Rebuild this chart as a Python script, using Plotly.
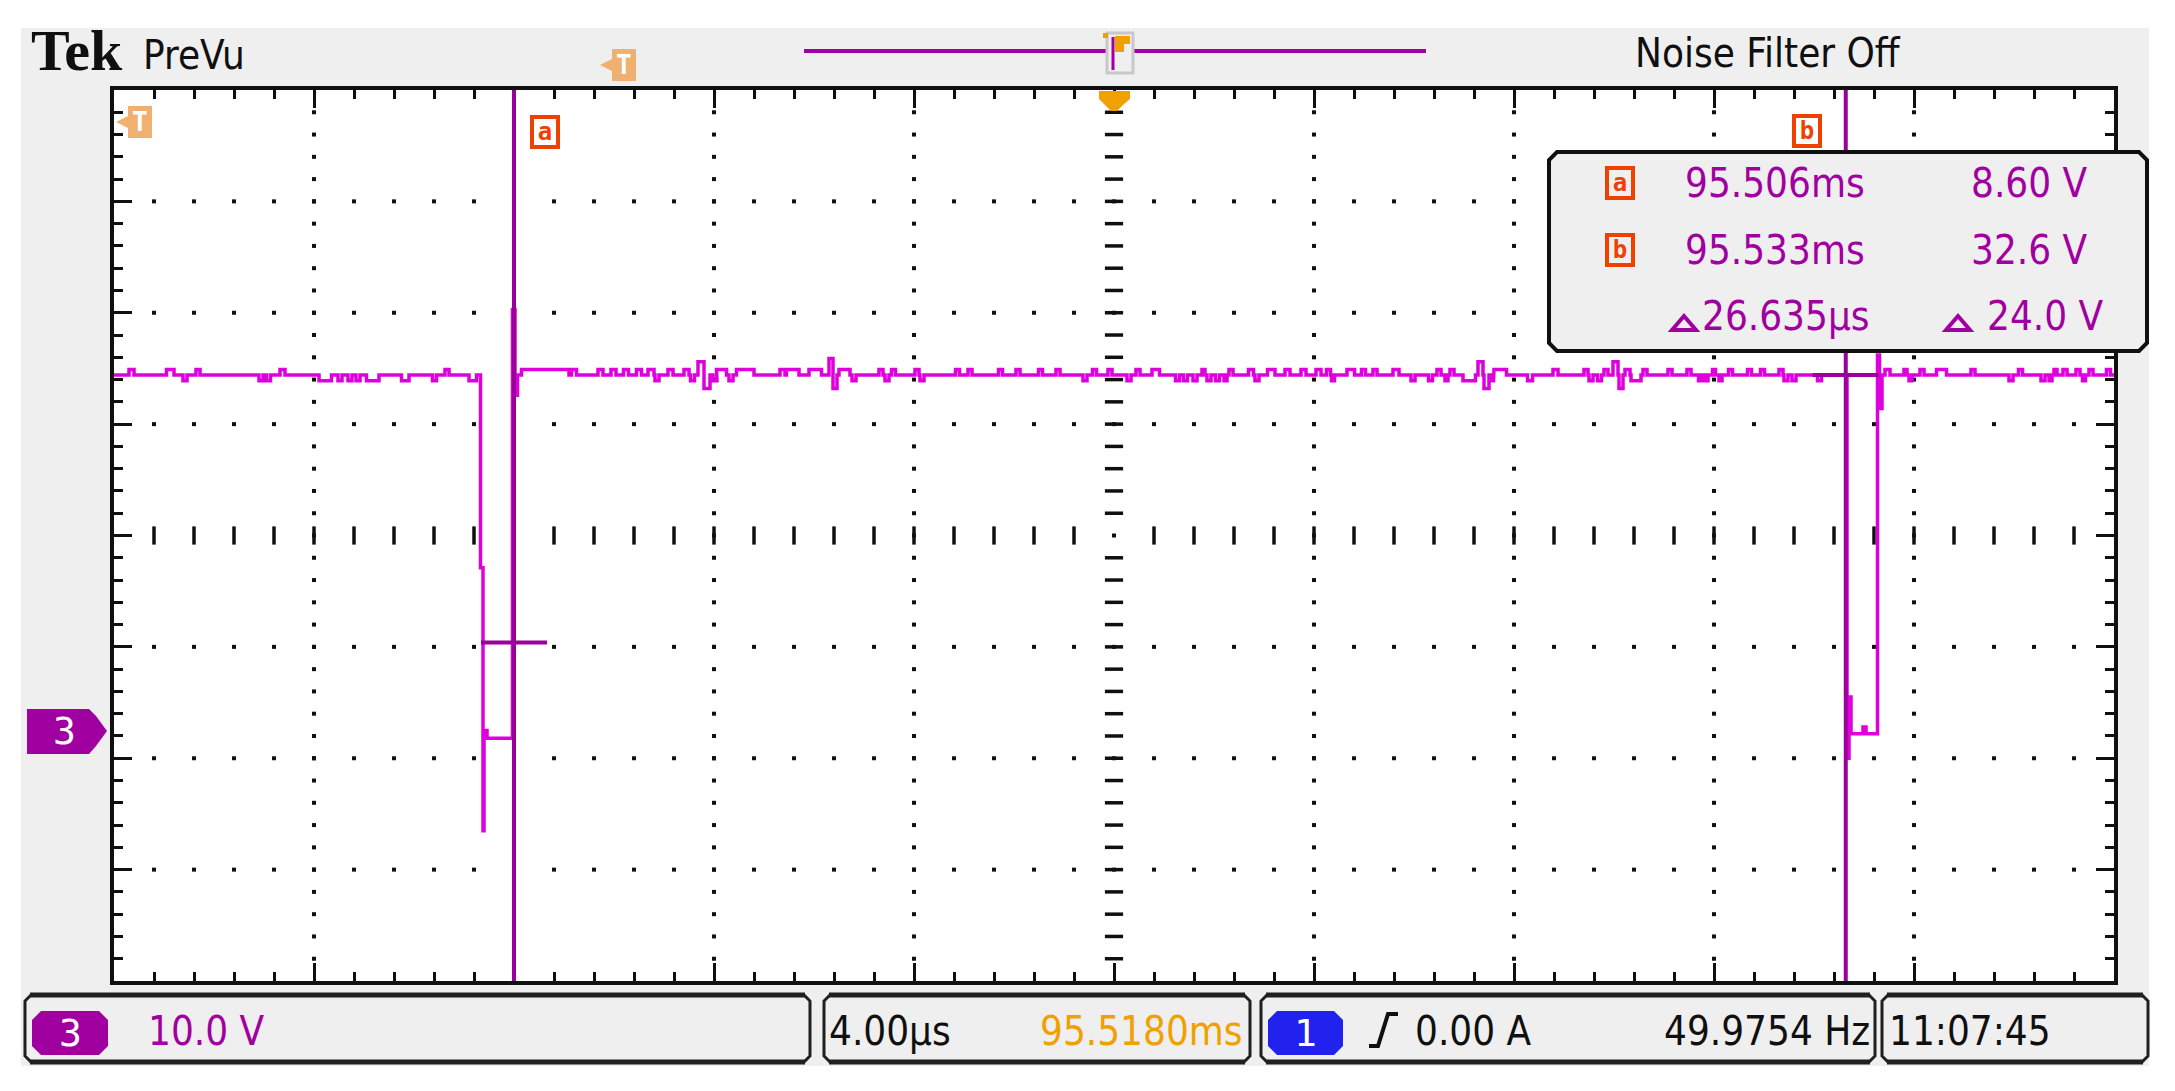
import plotly.graph_objects as go

# --- screen data -----------------------------------------------------------
# time axis in µs relative to screen centre (4.00 µs/div, 10 div)
T_RANGE = [-20, 20]
# ch3 voltage axis (10.0 V/div, 8 div, ground marker at 5.82 div from top)
V_RANGE = [-21.8, 58.2]
BASE_V = 32.6

# baseline noise: start time (µs), deviation (V), width (µs)
NOISE_T = [-19.70, -18.95, -18.62, -18.36, -17.10, -16.95, -16.68, -15.90, -15.52, -15.32,
           -15.16, -14.95, -14.25, -13.63, -13.38, -12.90,
           -11.85, -10.85, -10.32, -10.06, -9.81, -9.55, -9.32, -9.18, -8.92, -8.60,
           -8.47, -8.32, -8.20, -8.02, -7.95, -7.70, -7.55, -6.68, -6.55, -6.10,
           -5.70, -5.62, -5.50, -5.24, -4.70, -4.58, -4.45, -3.98, -3.88, -3.17,
           -2.92, -2.31, -1.96, -1.51, -1.16, -0.62, -0.43, -0.12, 0.26, 0.44,
           0.76, 1.23, 1.39, 1.58, 1.76, 1.86, 2.03, 2.20, 2.30, 2.69,
           2.82, 3.07, 3.42, 3.74, 4.04, 4.25, 4.35, 4.66, 4.95, 5.18,
           5.58, 5.94, 6.29, 6.46, 6.62, 6.72, 6.98, 7.28, 7.40, 7.53,
           7.60, 8.27, 8.78, 9.40, 9.50, 9.67, 9.80, 9.98, 10.10, 10.22,
           10.34, 10.58, 11.08, 11.46, 11.69, 11.82, 11.97, 12.10, 12.29, 12.67,
           12.93, 13.30, 13.40, 13.56, 14.07,
           15.42, 15.80, 15.90, 16.12, 16.45, 17.14, 17.90, 18.09, 18.54, 18.70,
           18.80, 18.98, 19.24, 19.37, 19.50, 19.85]
NOISE_DV = [0.5, 0.5, -0.5, 0.5, -0.5, -0.5, 0.5, -0.5, -0.5, -0.5,
            -0.5, -0.5, -0.5, -0.5, 0.5, -0.5,
            0.5, 0.5, 0.5, 0.5, 0.5, 0.5, 0.5, -0.5, 0.5, 0.5,
            -0.5, 1.2, -1.2, -0.5, 0.5, -0.5, 0.5, 0.5, 0.5, 0.5,
            1.5, -1.2, 0.5, -0.5, 0.5, -0.5, 0.5, 0.5, -0.5, 0.5,
            0.5, 0.5, 0.5, 0.5, 0.5, -0.5, 0.5, 0.5, -0.5, 0.5,
            0.5, -0.5, -0.5, -0.5, 0.5, -0.5, -0.5, -0.5, 0.5, 0.5,
            -0.5, 0.5, 0.5, 0.5, 0.5, 0.5, -0.5, 0.5, 0.5, 0.5,
            0.5, -0.5, -0.5, 0.5, -0.5, 0.5, -0.5, 1.2, -1.2, -0.5,
            0.5, -0.5, 0.5, 0.5, -0.5, -0.5, 0.5, 1.2, -1.2, 0.5,
            -0.5, 0.5, 0.5, 0.5, -0.5, -0.5, 0.5, -0.5, 0.5, 0.5,
            0.5, 0.5, -0.5, -0.5, -0.5,
            0.5, 0.5, -0.5, 0.5, 0.5, 0.5, -0.5, 0.5, -0.5, -0.5,
            0.5, 0.5, 0.5, -0.5, 0.5, 0.5]
NOISE_W = [0.10, 0.15, 0.08, 0.08, 0.08, 0.08, 0.10, 0.25, 0.08, 0.08,
           0.08, 0.25, 0.15, 0.08, 0.08, 0.15,
           0.95, 0.10, 0.10, 0.10, 0.10, 0.10, 0.12, 0.08, 0.10, 0.10,
           0.08, 0.12, 0.12, 0.08, 0.20, 0.08, 0.35, 0.10, 0.25, 0.25,
           0.08, 0.08, 0.22, 0.08, 0.08, 0.08, 0.08, 0.08, 0.08, 0.08,
           0.08, 0.08, 0.08, 0.08, 0.08, 0.08, 0.08, 0.08, 0.08, 0.08,
           0.15, 0.08, 0.08, 0.08, 0.06, 0.08, 0.08, 0.06, 0.08, 0.10,
           0.08, 0.15, 0.10, 0.10, 0.10, 0.08, 0.06, 0.15, 0.08, 0.08,
           0.12, 0.08, 0.08, 0.08, 0.06, 0.08, 0.25, 0.10, 0.10, 0.06,
           0.25, 0.10, 0.10, 0.08, 0.08, 0.08, 0.08, 0.10, 0.08, 0.10,
           0.20, 0.08, 0.08, 0.08, 0.06, 0.06, 0.06, 0.06, 0.08, 0.08,
           0.08, 0.08, 0.08, 0.08, 0.08,
           0.10, 0.06, 0.06, 0.08, 0.20, 0.08, 0.08, 0.08, 0.08, 0.06,
           0.06, 0.08, 0.08, 0.06, 0.08, 0.08]

# the two pulses (time µs, voltage V)
DIP1_T = [-12.67, -12.67, -12.62, -12.62, -12.60, -12.60, -12.54, -12.54,
          -12.03, -12.03, -11.98, -11.98, -11.93, -11.93]
DIP1_V = [32.6, 15.3, 15.3, -8.3, -8.3, 0.7, 0.7, 0.0,
          0.0, 38.5, 38.5, 30.8, 30.8, 32.6]
DIP2_T = [14.66, 14.66, 14.70, 14.70, 14.74, 14.74, 14.98, 14.98, 15.04, 15.04,
          15.27, 15.27, 15.31, 15.31, 15.36, 15.36]
DIP2_V = [32.6, -1.8, -1.8, 3.7, 3.7, 0.4, 0.4, 1.0, 1.0, 0.4,
          0.4, 34.4, 34.4, 29.6, 29.6, 32.6]

# cursors
CURSOR_T = [-12.0, 14.635]
CURSOR_V = [8.60, 32.6]
CURSOR_HALF = 0.66
READOUT = [["95.506ms", "8.60 V"], ["95.533ms", "32.6 V"], ["26.635µs", "24.0 V"]]

# status bar text
CH_SCALE = "10.0 V"
TIME_SCALE = "4.00µs"
TIME_POS = "95.5180ms"
TRIG_LEVEL = "0.00 A"
FREQ = "49.9754 Hz"
CLOCK = "11:07:45"

# --- colours / fonts ----------------------------------------------------------
TRACE = "#DD00DD"
CURSOR = "#9A009A"
PURPLE = "#A000A0"
ORANGE = "#F04000"
LIGHT_ORANGE = "#F0B070"
TRIG_ORANGE = "#F0A000"
BLUE = "#2222EE"
GREY = "#EFEFEF"
INK = "#101010"
NARROW = "Liberation Sans Narrow, DejaVu Sans Condensed, Arial Narrow, sans-serif"
TXT = 40

W, H = 2175, 1091
PLOT_X0, PLOT_X1, PLOT_Y0, PLOT_Y1 = 114, 2114, 90, 981


def px(x):
    return x / W


def py(y):
    return 1 - y / H


def poly(points, close=True):
    s = "M " + " L ".join(f"{px(x):.5f},{py(y):.5f}" for x, y in points)
    return s + (" Z" if close else "")


def chamfer(x0, y0, x1, y1, c=6):
    return [(x0 + c, y0), (x1 - c, y0), (x1, y0 + c), (x1, y1 - c),
            (x1 - c, y1), (x0 + c, y1), (x0, y1 - c), (x0, y0 + c)]


def baseline_segment(t0, t1):
    xs, ys = [], []
    for t, dv, w in zip(NOISE_T, NOISE_DV, NOISE_W):
        if t0 < t and t + w < t1:
            xs += [t, t, t + w, t + w]
            ys += [BASE_V, BASE_V + dv, BASE_V + dv, BASE_V]
    return xs, ys


fig = go.Figure()

# --- graticule ------------------------------------------------------------------
t_minor = [T_RANGE[0] + 0.8 * k for k in range(1, 50)]
v_minor = [V_RANGE[0] + 2 * k for k in range(1, 40)]
t_grid = [-16, -12, -8, -4, 4, 8, 12, 16]
v_grid = [-11.8, -1.8, 8.2, 28.2, 38.2, 48.2]
v_mid = 18.2

gx, gy = [], []
for t in t_grid:
    gx += [t] * len(v_minor)
    gy += v_minor
for v in v_grid:
    gx += t_minor
    gy += [v] * len(t_minor)
gx.append(0)
gy.append(v_mid)
fig.add_trace(go.Scatter(x=gx, y=gy, mode="markers",
                         marker=dict(symbol="square", size=4, color=INK, line_width=0)))
fig.add_trace(go.Scatter(x=[t for t in t_minor if abs(t) > 0.01],
                         y=[v_mid] * 48, mode="markers",
                         marker=dict(symbol="line-ns", size=13, line=dict(width=3.5, color=INK))))
fig.add_trace(go.Scatter(x=[0] * 38, y=[v for v in v_minor if abs(v - v_mid) > 0.01],
                         mode="markers",
                         marker=dict(symbol="line-ew", size=13, line=dict(width=3.5, color=INK))))

# --- waveform ---------------------------------------------------------------------
x1, y1 = baseline_segment(T_RANGE[0], DIP1_T[0])
x2, y2 = baseline_segment(DIP1_T[-1], DIP2_T[0])
x3, y3 = baseline_segment(DIP2_T[-1], T_RANGE[1])
wave_t = [T_RANGE[0]] + x1 + DIP1_T + x2 + DIP2_T + x3 + [T_RANGE[1]]
wave_v = [BASE_V] + y1 + DIP1_V + y2 + DIP2_V + y3 + [BASE_V]
fig.add_trace(go.Scatter(x=wave_t, y=wave_v, mode="lines",
                         line=dict(color=TRACE, width=3.5)))

# cursor crosshair bars
for t, v in zip(CURSOR_T, CURSOR_V):
    fig.add_trace(go.Scatter(x=[t - CURSOR_HALF, t + CURSOR_HALF], y=[v, v], mode="lines",
                             line=dict(color=CURSOR, width=4)))
    fig.add_shape(type="line", xref="x", yref="y domain", x0=t, x1=t, y0=0, y1=1,
                  line=dict(color=CURSOR, width=4))

# --- frame pieces (pixel layout) ----------------------------------------------
shapes = []
# white page edges around the grey instrument panel
for x0, y0, x1_, y1_ in [(0, 0, W, 28), (0, 1066, W, H), (0, 0, 21, H), (2149, 0, W, H)]:
    shapes.append(dict(type="rect", xref="paper", yref="paper", x0=px(x0), x1=px(x1_),
                       y0=py(y1_), y1=py(y0), fillcolor="white", line_width=0, layer="below"))

# record view bar and trigger window
shapes.append(dict(type="line", xref="paper", yref="paper", x0=px(804), x1=px(1426),
                   y0=py(51), y1=py(51), line=dict(color=PURPLE, width=4)))
shapes.append(dict(type="rect", xref="paper", yref="paper", x0=px(1107), x1=px(1133),
                   y0=py(73), y1=py(33), line=dict(color="#C8C8C8", width=3), fillcolor=GREY))
shapes.append(dict(type="line", xref="paper", yref="paper", x0=px(1113), x1=px(1113),
                   y0=py(70), y1=py(37), line=dict(color=PURPLE, width=3)))
shapes.append(dict(type="path", xref="paper", yref="paper",
                   path=poly([(1115, 36), (1130, 36), (1130, 44), (1124, 44), (1124, 52), (1115, 52)]),
                   fillcolor=TRIG_ORANGE, line_width=0))
shapes.append(dict(type="rect", xref="paper", yref="paper", x0=px(1103), x1=px(1108),
                   y0=py(38), y1=py(33), fillcolor=TRIG_ORANGE, line_width=0))

# trigger position arrow on top edge
shapes.append(dict(type="path", xref="paper", yref="paper",
                   path=poly([(1099, 91), (1130, 91), (1130, 99), (1123, 105), (1117, 111),
                              (1111, 111), (1105, 105), (1099, 99)]),
                   fillcolor=TRIG_ORANGE, line_width=0))

# "T" markers (light orange, pointing left)
for (xa, ya) in [(600, 65), (116, 122)]:
    shapes.append(dict(type="path", xref="paper", yref="paper",
                       path=poly([(xa + 12, ya - 16), (xa + 36, ya - 16), (xa + 36, ya + 16),
                                  (xa + 12, ya + 16), (xa + 12, ya + 6), (xa, ya), (xa + 12, ya - 6)]),
                       fillcolor=LIGHT_ORANGE, line_width=0))

# ground marker for ch3
shapes.append(dict(type="path", xref="paper", yref="paper",
                   path=poly([(27, 709), (89, 709), (96, 716), (107, 731), (96, 746), (89, 754), (27, 754)]),
                   fillcolor=PURPLE, line_width=0))

# cursor readout box
shapes.append(dict(type="path", xref="paper", yref="paper",
                   path=poly(chamfer(1549, 152, 2147, 351, 8)),
                   fillcolor=GREY, line=dict(color=INK, width=4)))

# delta triangles in the readout
for xd in (1672, 1946):
    shapes.append(dict(type="path", xref="paper", yref="paper",
                       path=poly([(xd, 330), (xd + 24, 330), (xd + 12, 316)]),
                       line=dict(color=PURPLE, width=4)))

# status bar boxes
for x0, x1_ in [(25, 810), (824, 1250), (1261, 1875), (1882, 2148)]:
    shapes.append(dict(type="path", xref="paper", yref="paper",
                       path=poly(chamfer(x0, 995, x1_, 1062, 6)),
                       fillcolor=GREY, line=dict(color="#202020", width=3)))
    for yy in (995, 1062):
        shapes.append(dict(type="line", xref="paper", yref="paper", x0=px(x0 + 5), x1=px(x1_ - 5),
                           y0=py(yy), y1=py(yy), line=dict(color="#202020", width=5)))

# channel badges
for x0, x1_, col in [(32, 108, PURPLE), (1268, 1343, BLUE)]:
    shapes.append(dict(type="path", xref="paper", yref="paper",
                       path=poly(chamfer(x0, 1011, x1_, 1055, 9)),
                       fillcolor=col, line_width=0))

# rising edge trigger symbol
shapes.append(dict(type="path", xref="paper", yref="paper",
                   path=poly([(1369, 1046), (1378, 1046), (1388, 1014), (1398, 1014)], close=False),
                   line=dict(color=INK, width=4)))

for s in shapes:
    fig.add_shape(**s)

# --- text -----------------------------------------------------------------------
def label(x, y, text, color=INK, size=TXT, family=NARROW, anchor="left", **kw):
    fig.add_annotation(x=px(x), y=py(y), xref="paper", yref="paper", text=text,
                       showarrow=False, xanchor=anchor, yanchor="middle",
                       font=dict(color=color, size=size, family=family), **kw)


label(29, 50, "<b>Tek</b>", size=58, family="Liberation Serif, DejaVu Serif, serif")
label(141, 55, "PreVu", size=TXT)
label(1633, 53, "Noise Filter Off", size=TXT)
label(624, 65, "<b>T</b>", color="white", size=26, family="DejaVu Sans Mono, monospace", anchor="center")
label(140, 122, "<b>T</b>", color="white", size=26, family="DejaVu Sans Mono, monospace", anchor="center")
label(64, 731, "3", color="white", size=38, family="DejaVu Sans Mono, monospace", anchor="center")

# cursor labels
for x, y, ch in [(545, 132, "a"), (1807, 131, "b"), (1620, 183, "a"), (1620, 250, "b")]:
    label(x, y, f"<b>{ch}</b>", color=ORANGE, size=24, family="DejaVu Sans Mono, monospace",
          anchor="center", bordercolor=ORANGE, borderwidth=4, borderpad=0, width=22, height=26,
          bgcolor=GREY if y > 150 else "white")

# readout rows
for (tt, vv), y, xl, xr in zip(READOUT, [183, 250, 316], [1683, 1683, 1700], [2090, 2090, 2106]):
    label(xl, y, tt, color=PURPLE)
    label(xr, y, vv, color=PURPLE, anchor="right")

# status bar
label(70, 1033, "3", color="white", size=38, family="DejaVu Sans Mono, monospace", anchor="center")
label(1305, 1033, "1", color="white", size=38, family="DejaVu Sans Mono, monospace", anchor="center")
label(146, 1031, CH_SCALE, color=PURPLE)
label(827, 1031, TIME_SCALE)
label(1245, 1031, TIME_POS, color=TRIG_ORANGE, anchor="right")
label(1413, 1031, TRIG_LEVEL)
label(1872, 1031, FREQ, anchor="right")
label(1887, 1031, CLOCK)

# --- layout -----------------------------------------------------------------------
axis_common = dict(showline=True, linecolor=INK, linewidth=4, mirror="allticks",
                   ticks="inside", ticklen=18, tickwidth=3, tickcolor=INK,
                   showgrid=False, zeroline=False, showticklabels=False, fixedrange=True)
fig.update_layout(
    width=W, height=H,
    margin=dict(l=0, r=0, t=0, b=0),
    paper_bgcolor=GREY, plot_bgcolor="white",
    showlegend=False, hovermode=False,
    xaxis=dict(range=T_RANGE, domain=[px(PLOT_X0), px(PLOT_X1)], tick0=T_RANGE[0], dtick=4,
               minor=dict(ticks="inside", ticklen=9, tickwidth=3, tickcolor=INK,
                          tick0=T_RANGE[0], dtick=0.8, showgrid=False),
               **axis_common),
    yaxis=dict(range=V_RANGE, domain=[py(PLOT_Y1), py(PLOT_Y0)], tick0=V_RANGE[0], dtick=10,
               minor=dict(ticks="inside", ticklen=9, tickwidth=3, tickcolor=INK,
                          tick0=V_RANGE[0], dtick=2, showgrid=False),
               **axis_common),
)

fig.write_html("out.html", config={"displayModeBar": False},
               post_script="document.body.style.margin='0';document.body.style.overflow='hidden';")
